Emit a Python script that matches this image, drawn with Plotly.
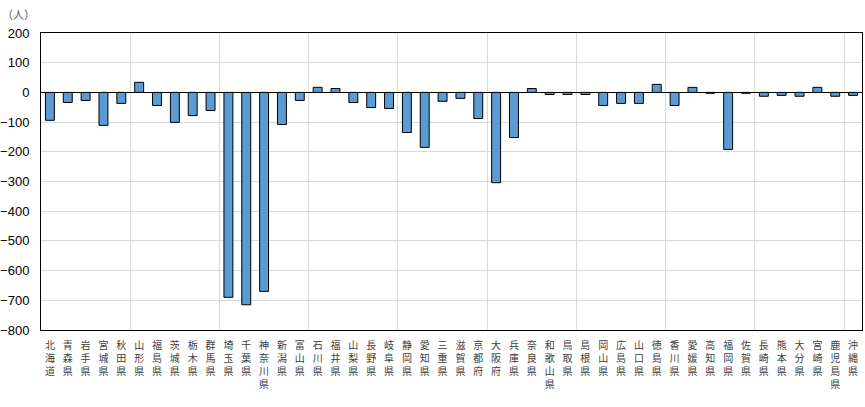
import plotly.graph_objects as go

# ---------------------------------------------------------
# data
# ---------------------------------------------------------

prefectures = [
    "北海道", "青森県", "岩手県", "宮城県", "秋田県", "山形県", "福島県",
    "茨城県", "栃木県", "群馬県", "埼玉県", "千葉県", "神奈川県",
    "新潟県", "富山県", "石川県", "福井県", "山梨県", "長野県",
    "岐阜県", "静岡県", "愛知県", "三重県", "滋賀県", "京都府",
    "大阪府", "兵庫県", "奈良県", "和歌山県", "鳥取県", "島根県",
    "岡山県", "広島県", "山口県", "徳島県", "香川県", "愛媛県",
    "高知県", "福岡県", "佐賀県", "長崎県", "熊本県", "大分県",
    "宮崎県", "鹿児島県", "沖縄県",
]

net_migration = [
    -94, -34, -27, -111, -37, 34, -44,
    -101, -78, -61, -690, -715, -670,
    -108, -27, 17, 13, -34, -51,
    -54, -135, -185, -30, -20, -88,
    -304, -152, 13, -7, -7, -7,
    -44, -37, -37, 27, -44, 17,
    -3, -192, -3, -13, -10, -13,
    17, -13, -10,
]

y_ticks = list(range(-800, 201, 100))

# vertical text: one character per line
labels = ["<br>".join(list(p)) for p in prefectures]

fig = go.Figure()

fig.add_trace(go.Bar(
    x=prefectures,
    y=net_migration,
    marker=dict(color="#5B9BD5", line=dict(color="black", width=1)),
    width=0.5,
    hoverinfo="x+y",
))

# empty trace to hold the secondary axis (vertical grid)
fig.add_trace(go.Scatter(x=[], y=[], xaxis="x2", showlegend=False, hoverinfo="skip"))

fig.update_layout(
    width=865,
    height=407,
    paper_bgcolor="white",
    plot_bgcolor="white",
    showlegend=False,
    margin=dict(l=41, r=3, t=33, b=77),
    font=dict(family="Liberation Sans, Arial, sans-serif", size=12, color="#000000"),
    bargap=0.5,
    xaxis=dict(
        tickmode="array",
        tickvals=prefectures,
        ticktext=labels,
        tickangle=0,
        tickfont=dict(family="Noto Sans CJK JP", size=10, color="#404040"),
        showgrid=False,
        showline=True,
        mirror=True,
        linecolor="black",
        linewidth=1,
        ticks="",
        ticklabelstandoff=6,
        automargin=False,
    ),
    xaxis2=dict(
        overlaying="x",
        anchor="y",
        range=[0, 9.2],
        dtick=1,
        showgrid=True,
        gridcolor="#d9d9d9",
        gridwidth=1,
        showticklabels=False,
        zeroline=False,
        showline=False,
        ticks="",
    ),
    yaxis=dict(
        range=[-800, 200],
        tickvals=y_ticks,
        showgrid=True,
        gridcolor="#d9d9d9",
        gridwidth=1,
        zeroline=True,
        zerolinecolor="black",
        zerolinewidth=1,
        showline=True,
        mirror=True,
        linecolor="black",
        linewidth=1,
        ticks="",
        tickfont=dict(size=13, color="#000000"),
        ticklabelstandoff=8,
        automargin=False,
    ),
    annotations=[dict(
        text="（人）",
        xref="paper",
        yref="paper",
        x=-0.028,
        y=1.064,
        xanchor="center",
        yanchor="middle",
        showarrow=False,
        font=dict(family="Noto Sans CJK JP", size=11, color="#595959"),
    )],
)

fig.write_html(
    "out.html",
    config={"displayModeBar": False},
    post_script="document.body.style.margin='0';",
)
